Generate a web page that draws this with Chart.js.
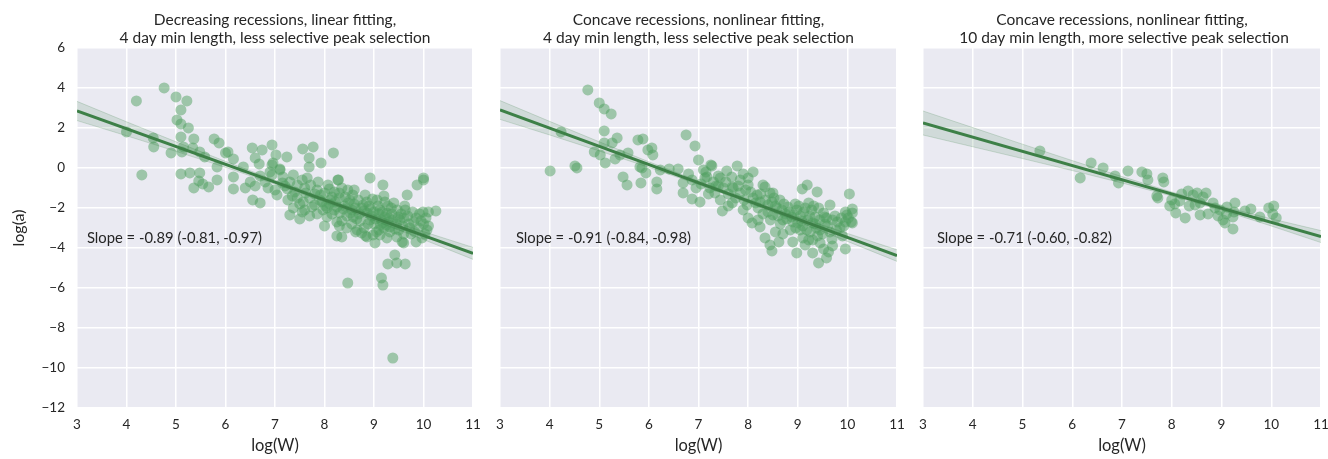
<!DOCTYPE html>
<html>
<head>
<meta charset="utf-8">
<script src="https://cdn.jsdelivr.net/npm/chart.js@4.4.1/dist/chart.umd.min.js"></script>
<style>
  body { margin: 0; background: #fff; width: 1328px; height: 459px; overflow: hidden; position: relative; }
  .panel { position: absolute; top: 0; height: 459px; }
</style>
</head>
<body>
<div class="panel" style="left:0;width:482px"><canvas id="c1"></canvas></div>
<div class="panel" style="left:480px;width:426px"><canvas id="c2"></canvas></div>
<div class="panel" style="left:903px;width:427px"><canvas id="c3"></canvas></div>
<script>
// log(W) vs log(a) scatter
const p1Points = [
  [4.0,1.8],[4.2,3.35],[4.31,-0.35],[4.54,1.5],[4.55,1.05],[4.76,4.0],[4.9,0.75],[5.0,3.55],[5.1,2.9],[5.22,3.35],
  [5.02,2.4],[5.1,2.2],[5.25,2.0],[5.1,1.55],[5.36,1.45],[5.15,1.05],[5.12,0.8],[5.34,1.0],[5.48,0.8],[5.58,0.55],
  [5.1,-0.3],[5.28,-0.25],[5.48,-0.25],[5.46,-0.65],[5.36,-1.0],[5.54,-0.8],[5.66,-0.95],[5.77,1.45],[5.87,1.25],[5.83,0.05],
  [5.83,-0.6],[6.0,0.75],[6.05,0.8],[6.16,0.45],[6.16,-0.45],[6.16,-1.05],[6.36,0.05],[6.4,-1.0],[6.5,-0.7],[6.55,-1.6],
  [6.7,-1.75],[6.54,1.0],[6.6,0.5],[6.74,0.9],[6.94,1.15],[6.68,0.2],[6.94,0.15],[7.02,0.65],[7.24,0.55],[6.86,-1.0],
  [7.04,-1.35],[7.1,-0.1],[7.56,0.95],[7.77,1.05],[7.69,0.5],[7.69,0.05],[7.93,0.25],[8.18,0.75],[8.28,-0.6],[8.92,-0.5],
  [9.18,-0.85],[9.67,-1.35],[9.87,-0.85],[10.0,-0.5],[10.0,-0.6],[9.99,-2.2],[10.1,-2.2],[10.25,-2.15],[9.8,-2.7],[10.1,-2.9],
  [6.96,0.25],[7.1,-0.05],[6.94,-0.35],[7.16,-0.45],[7.37,-0.35],[7.55,-0.6],[7.65,-0.5],[7.87,-0.7],[8.07,-0.85],[8.27,-0.6],
  [8.35,-1.0],[8.47,-1.1],[7.26,-1.6],[7.37,-2.0],[7.3,-2.35],[7.5,-2.55],[7.55,-2.2],[7.57,-1.7],[7.7,-1.5],[7.8,-1.85],
  [7.95,-1.7],[7.97,-2.1],[8.05,-2.45],[8.15,-1.45],[8.25,-1.95],[8.31,-2.25],[8.25,-2.7],[8.51,-1.6],[8.55,-2.1],[8.58,-2.45],
  [8.66,-3.1],[8.78,-1.85],[8.86,-2.25],[8.82,-1.35],[8.92,-2.6],[9.06,-1.6],[9.12,-2.1],[9.22,-1.7],[9.26,-2.25],[9.4,-1.75],
  [9.32,-2.95],[9.18,-2.75],[8.98,-3.35],[9.26,-3.5],[9.57,-3.7],[9.46,-3.45],[8.25,-3.4],[8.35,-3.45],[8.86,-3.45],[9.02,-3.75],
  [9.42,-4.35],[9.28,-4.8],[9.46,-4.75],[9.63,-4.8],[9.63,-2.1],[9.97,-3.5],[10.07,-3.1],[9.6,-2.5],[9.49,-2.45],[9.38,-2.6],
  [8.63,-3.2],[8.83,-3.4],[9.12,-3.35],[9.32,-3.2],[9.6,-3.75],[8.47,-5.75],[9.15,-5.5],[9.18,-5.85],[9.38,-9.5],
  [7.4,-1.2],[7.6,-1.0],[7.8,-1.3],[7.9,-1.6],[8.1,-1.8],[8.2,-1.2],[8.3,-1.5],[8.4,-1.9],[8.45,-2.4],[8.6,-1.8],
  [8.7,-2.3],[8.75,-2.0],[8.9,-1.9],[8.95,-2.4],[9.0,-2.8],[9.1,-2.3],[9.15,-2.6],[9.2,-3.0],[9.3,-2.5],[9.35,-2.0],
  [9.45,-2.8],[9.5,-3.1],[9.55,-2.3],[9.7,-2.8],[9.75,-3.3],[9.85,-2.5],[9.9,-3.0],[10.0,-2.8],[7.2,-0.9],[7.0,-1.1],
  [6.8,-0.7],[6.7,-0.4],[6.6,-0.9],[6.9,-0.2],[7.3,-0.7],[7.45,-1.5],[7.7,-2.4],[8.05,-2.0],[8.15,-2.3],[8.35,-2.65],
  [8.55,-2.8],[8.65,-2.55],[8.8,-3.0],[9.05,-3.2],[9.25,-2.85],[9.6,-3.3],[9.85,-3.7],[10.05,-2.5],
  [7.15,-0.75],[7.25,-1.05],[7.35,-1.4],[7.45,-0.85],[7.5,-1.8],[7.62,-1.25],[7.72,-0.85],[7.75,-1.95],[7.85,-1.1],[7.92,-1.35],
  [8.0,-1.25],[8.02,-1.9],[8.1,-1.05],[8.12,-1.6],[8.2,-2.1],[8.22,-1.7],[8.3,-1.25],[8.38,-2.05],[8.42,-1.45],[8.48,-1.75],
  [8.52,-2.25],[8.57,-1.35],[8.62,-2.0],[8.68,-1.6],[8.72,-2.65],[8.8,-2.15],[8.85,-1.7],[8.88,-2.8],[8.93,-2.05],[8.97,-1.55],
  [9.0,-2.2],[9.03,-2.55],[9.08,-1.9],[9.13,-2.85],[9.17,-2.2],[9.22,-2.45],[9.28,-1.9],[9.3,-2.7],[9.36,-2.3],[9.42,-3.05],
  [9.47,-2.1],[9.52,-2.6],[9.58,-2.9],[9.62,-1.9],[9.68,-2.4],[9.72,-3.0],[9.78,-2.2],[9.82,-3.2],[9.92,-2.3],[9.95,-2.65],
  [10.03,-3.3],[8.0,-2.9],[8.45,-3.0],[8.75,-3.25],[9.1,-3.1],[7.85,-2.3],[8.6,-1.1],[9.2,-1.4],[8.3,-2.9],[7.6,-2.1]
];
const p2Points = [
  [4.01,-0.15],[4.23,1.8],[4.51,0.1],[4.55,0.0],[4.77,3.9],[5.0,3.25],[5.1,2.95],[5.24,2.7],[5.1,1.85],[5.1,1.25],
  [4.9,0.8],[5.02,0.65],[5.12,0.25],[5.26,1.25],[5.36,1.5],[5.32,0.45],[5.42,0.65],[5.58,0.75],[5.48,-0.45],[5.56,-0.85],
  [5.78,1.4],[5.88,1.45],[5.82,0.05],[5.86,0.0],[5.94,-0.25],[5.84,-0.75],[5.98,0.9],[6.06,1.0],[6.08,0.65],[6.16,-0.7],
  [6.16,-1.05],[6.23,-0.1],[6.41,-0.05],[6.59,-0.05],[6.69,-0.75],[6.69,-1.25],[6.75,1.65],[6.93,1.1],[7.0,0.4],[6.87,-1.55],
  [7.03,-1.7],[7.1,-0.1],[7.17,-0.45],[7.27,0.1],[7.3,-0.7],[7.4,-0.4],[7.57,-0.15],[7.78,0.1],[8.1,-0.2],[8.0,-0.5],
  [7.48,-2.15],[7.68,-0.95],[8.3,-0.85],[8.5,-1.25],[9.09,-1.05],[9.19,-0.85],[9.39,-1.2],[9.65,-1.85],[10.04,-1.3],[9.96,-2.2],
  [10.1,-2.25],[10.08,-2.7],[9.8,-2.7],[7.25,0.15],[6.87,-0.6],[7.13,-0.5],[7.44,-0.5],[7.67,-0.45],[7.84,-0.6],[8.0,-0.85],
  [8.34,-0.95],[7.23,-1.0],[7.33,-1.25],[7.5,-1.0],[7.7,-1.0],[7.44,-1.6],[7.68,-1.75],[7.84,-1.25],[7.9,-2.1],[7.98,-1.85],
  [8.0,-2.5],[8.08,-2.75],[8.18,-1.35],[8.24,-1.7],[8.24,-2.95],[8.44,-1.25],[8.48,-1.7],[8.5,-2.35],[8.64,-1.6],[8.68,-2.1],
  [8.7,-2.6],[8.8,-1.95],[8.88,-2.45],[8.85,-3.1],[8.98,-2.1],[9.0,-2.75],[9.05,-3.1],[9.15,-2.0],[9.22,-1.75],[9.28,-2.1],
  [9.35,-2.45],[9.42,-2.0],[9.52,-2.25],[9.58,-2.5],[9.99,-2.35],[10.1,-2.05],[10.1,-2.75],[9.96,-2.7],[8.34,-3.5],[8.44,-3.85],
  [8.48,-4.15],[8.62,-3.7],[8.98,-4.25],[9.15,-3.85],[9.22,-3.6],[9.3,-4.25],[9.42,-4.75],[9.45,-3.75],[9.52,-4.05],[9.58,-4.5],
  [9.69,-3.55],[9.96,-4.05],[9.62,-4.2],[7.35,-0.9],[7.6,-1.3],[7.75,-1.5],[7.95,-1.1],[8.1,-1.5],[8.2,-2.0],[8.35,-1.6],
  [8.4,-2.2],[8.55,-1.9],[8.6,-2.4],[8.75,-2.3],[8.9,-2.7],[8.95,-1.8],[9.05,-2.4],[9.1,-2.9],[9.2,-2.6],[9.25,-3.2],
  [9.35,-2.8],[9.45,-3.1],[9.55,-2.8],[9.65,-3.2],[9.75,-2.4],[9.85,-3.0],[9.9,-3.4],[7.05,-0.8],[6.8,-0.3],[6.95,-1.0],
  [7.2,-1.3],[7.9,-0.3],[8.7,-3.3],[9.1,-3.5],[9.4,-3.4],
  [7.15,-0.2],[7.4,-0.9],[7.55,-0.7],[7.8,-0.9],[7.92,-1.6],[8.05,-1.2],[8.15,-1.75],[8.25,-1.3],[8.3,-2.3],[8.4,-1.85],
  [8.45,-2.6],[8.52,-1.5],[8.58,-2.0],[8.65,-2.8],[8.72,-1.8],[8.78,-2.55],[8.83,-2.2],[8.92,-2.35],[8.96,-3.0],[9.02,-1.9],
  [9.08,-2.65],[9.12,-2.2],[9.18,-3.1],[9.24,-2.4],[9.3,-2.75],[9.32,-1.9],[9.38,-3.0],[9.44,-2.6],[9.5,-3.3],[9.54,-2.45],
  [9.6,-2.9],[9.7,-2.6],[9.78,-3.1],[9.88,-2.5],[9.93,-2.9],[10.02,-2.5],[8.55,-3.2],[8.9,-3.7],[9.3,-3.6],[9.7,-3.9],
  [8.2,-2.6],[7.6,-1.9]
];
const p3Points = [
  [5.35,0.85],[6.16,-0.5],[6.38,0.25],[6.62,0.0],[6.86,-0.4],[6.93,-0.75],[7.12,-0.15],[7.4,-0.2],[7.5,-0.3],[7.52,-0.6],
  [7.82,-0.5],[7.84,-0.7],[7.7,-1.4],[7.72,-1.5],[8.0,-1.6],[7.96,-1.9],[8.06,-1.8],[8.08,-2.25],[8.2,-1.3],[8.16,-1.65],
  [8.27,-2.5],[8.33,-1.15],[8.43,-1.35],[8.51,-1.25],[8.47,-1.85],[8.57,-1.75],[8.57,-2.35],[8.69,-1.25],[8.73,-2.3],[8.83,-1.75],
  [8.87,-2.0],[8.93,-2.4],[8.97,-2.1],[9.07,-2.75],[9.11,-1.95],[9.23,-2.45],[9.25,-2.2],[9.27,-1.75],[9.23,-3.05],[9.47,-2.15],
  [9.59,-2.05],[9.77,-2.45],[9.95,-2.0],[10.05,-1.9],[10.03,-2.3],[10.1,-2.5],[8.63,-1.45],[9.1,-2.3],[8.35,-1.9],[9.03,-2.6]
];

// regression line ends and confidence band
const fitX = [3, 11];
const p1Fit = [2.85, -4.27];
const p2Fit = [2.9, -4.38];
const p3Fit = [2.25, -3.43];
const bandX = [3, 4, 5, 6, 7, 8, 9, 10, 11];
const p1Upper = [3.33, 2.31, 1.31, 0.33, -0.61, -1.51, -2.36, -3.18, -3.97];
const p1Lower = [2.37, 1.61, 0.83, 0.03, -0.81, -1.69, -2.62, -3.58, -4.57];
const p2Upper = [3.37, 2.33, 1.31, 0.31, -0.65, -1.56, -2.44, -3.27, -4.09];
const p2Lower = [2.43, 1.65, 0.85, 0.03, -0.83, -1.74, -2.68, -3.67, -4.67];
const p3Upper = [2.85, 2.02, 1.19, 0.37, -0.43, -1.20, -1.91, -2.54, -3.13];
const p3Lower = [1.65, 1.06, 0.47, -0.13, -0.75, -1.40, -2.11, -2.90, -3.73];

const titles = [
  ['Decreasing recessions, linear fitting,', '4 day min length, less selective peak selection'],
  ['Concave recessions, nonlinear fitting,', '4 day min length, less selective peak selection'],
  ['Concave recessions, nonlinear fitting,', ' 10 day min length, more selective peak selection']
];
const slopeTexts = ['Slope = -0.89 (-0.81, -0.97)', 'Slope = -0.91 (-0.84, -0.98)', 'Slope = -0.71 (-0.60, -0.82)'];
const slopeX = [3.2, 3.32, 3.28];
const slopeY = -3.5;

const LINE = '#3d8047';
const DOTS = 'rgba(80,160,96,0.5)';
const BAND = 'rgba(62,128,72,0.15)';
const INK = '#262626';

Chart.defaults.font.family = 'Lato, "Open Sans", sans-serif';
Chart.defaults.color = INK;

const bg = {
  id: 'bg',
  beforeDraw(chart) {
    const { ctx, chartArea: a } = chart;
    ctx.save();
    ctx.fillStyle = '#EAEAF2';
    ctx.fillRect(a.left, a.top, a.right - a.left, a.bottom - a.top);
    ctx.restore();
  }
};

const note = {
  id: 'note',
  afterDatasetsDraw(chart, args, o) {
    const { ctx, scales } = chart;
    ctx.save();
    ctx.font = '14.8px Lato, sans-serif';
    ctx.fillStyle = INK;
    ctx.textAlign = 'left';
    ctx.textBaseline = 'middle';
    ctx.fillText(o.text, scales.x.getPixelForValue(o.x), scales.y.getPixelForValue(o.y));
    ctx.restore();
  }
};

const pairs = (xs, ys) => xs.map((x, i) => ({ x: x, y: ys[i] }));

function renderPanel(id, idx, points, fit, upper, lower, yWidth, padRight, showY) {
  new Chart(document.getElementById(id), {
    type: 'scatter',
    data: {
      datasets: [
        { data: pairs(fitX, fit), showLine: true, borderColor: LINE, borderWidth: 3, pointRadius: 0 },
        { data: pairs(bandX, upper), showLine: true, borderColor: 'rgba(62,128,72,0.2)', borderWidth: 1,
          pointRadius: 0, fill: '+1', backgroundColor: BAND },
        { data: pairs(bandX, lower), showLine: true, borderColor: 'rgba(62,128,72,0.2)', borderWidth: 1, pointRadius: 0 },
        { data: points.map(p => ({ x: p[0], y: p[1] })), pointRadius: 5.5, pointBackgroundColor: DOTS, pointBorderWidth: 0 }
      ]
    },
    options: {
      responsive: true,
      maintainAspectRatio: false,
      animation: false,
      events: [],
      layout: { padding: { right: padRight } },
      plugins: {
        legend: { display: false },
        tooltip: { enabled: false },
        title: {
          display: true, text: titles[idx], fullSize: false,
          font: { size: 15.5, weight: 'normal', lineHeight: 1.16 }, color: INK,
          padding: { top: 11, bottom: 1 }
        },
        note: { text: slopeTexts[idx], x: slopeX[idx], y: slopeY }
      },
      scales: {
        x: {
          type: 'linear', min: 3, max: 11,
          afterFit(s) { s.height = 51; },
          border: { display: false },
          grid: { color: '#fff', lineWidth: 1.5, drawTicks: true, tickLength: 9, tickColor: 'rgba(0,0,0,0)' },
          ticks: { stepSize: 1, autoSkip: false, maxRotation: 0, padding: 0, font: { size: 13.5 } },
          title: { display: true, text: 'log(W)', font: { size: 16.5 }, padding: { top: 0, bottom: 3 } }
        },
        y: {
          min: -12, max: 6,
          afterFit(s) { s.width = yWidth; },
          border: { display: false },
          grid: { color: '#fff', lineWidth: 1.5, drawTicks: false },
          ticks: {
            display: showY, stepSize: 2, padding: 12, font: { size: 13.5 },
            callback: v => (v < 0 ? '\u2212' + Math.abs(v) : String(v))
          },
          title: { display: showY, text: 'log(a)', font: { size: 16 }, padding: { top: 9, bottom: 0 } }
        }
      }
    },
    plugins: [bg, note]
  });
}

renderPanel('c1', 0, p1Points, p1Fit, p1Upper, p1Lower, 77, 9, true);
renderPanel('c2', 1, p2Points, p2Fit, p2Upper, p2Lower, 20, 9, false);
renderPanel('c3', 2, p3Points, p3Fit, p3Upper, p3Lower, 20, 9, false);
</script>
</body>
</html>
